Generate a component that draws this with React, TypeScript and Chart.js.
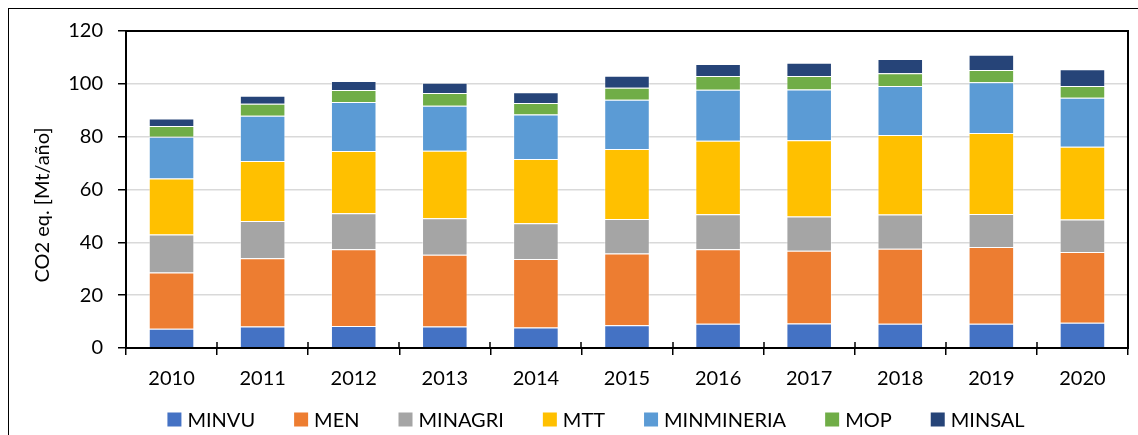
import React, { useEffect, useRef } from "react";
import { Chart, registerables } from "chart.js";

Chart.register(...registerables);

const years = ["2010", "2011", "2012", "2013", "2014", "2015", "2016", "2017", "2018", "2019", "2020"];
const minvu = [7.3, 8.1, 8.3, 8.1, 7.8, 8.6, 9.2, 9.3, 9.2, 9.2, 9.6];
const men = [21.3, 25.9, 29.1, 27.2, 25.9, 27.2, 28.2, 27.5, 28.4, 29.0, 26.7];
const minagri = [14.4, 14.1, 13.6, 13.8, 13.5, 13.0, 13.2, 13.0, 12.9, 12.5, 12.3];
const mtt = [21.2, 22.7, 23.6, 25.6, 24.3, 26.5, 27.9, 28.8, 30.1, 30.7, 27.6];
const minmineria = [15.8, 17.1, 18.5, 17.0, 16.9, 18.7, 19.3, 19.3, 18.6, 19.2, 18.5];
const mop = [4.0, 4.6, 4.6, 4.8, 4.3, 4.5, 5.2, 5.1, 4.8, 4.6, 4.5];
const minsal = [2.9, 3.0, 3.4, 3.9, 4.1, 4.6, 4.5, 5.0, 5.4, 5.8, 6.3];
const seriesNames = ["MINVU", "MEN", "MINAGRI", "MTT", "MINMINERIA", "MOP", "MINSAL"];
const seriesValues = [minvu, men, minagri, mtt, minmineria, mop, minsal];
const seriesColors = ["#4472C4", "#ED7D31", "#A5A5A5", "#FFC000", "#5B9BD5", "#70AD47", "#264478"];
const yTitle = "CO2 eq. [Mt/año]";
const yMin = 0;
const yMax = 120;
const yStep = 20;

const FONT = "Lato";

const framePlugin = {
  id: "frameAndLegend",
  afterDatasetsDraw(chart: any) {
    const { ctx, chartArea } = chart;
    const { left, right, top, bottom } = chartArea;
    const xs = chart.scales.x;
    ctx.save();
    ctx.strokeStyle = "#000";
    ctx.lineWidth = 1.5;
    const n = chart.data.labels.length;
    const step = (right - left) / n;
    for (let i = 0; i <= n; i++) {
      const x = Math.round(xs.getPixelForValue(0) - step / 2 + i * step);
      ctx.beginPath();
      ctx.moveTo(x, bottom);
      ctx.lineTo(x, bottom - 6);
      ctx.stroke();
    }
    ctx.lineWidth = 2;
    ctx.strokeRect(left, top, right - left, bottom - top);
    ctx.restore();
  },
  afterDraw(chart: any) {
    const { ctx } = chart;
    ctx.save();
    ctx.fillStyle = "#000";
    ctx.font = `20px ${FONT}`;
    ctx.textAlign = "center";
    ctx.textBaseline = "middle";
    ctx.translate(34, 196);
    ctx.rotate(-Math.PI / 2);
    ctx.fillText(yTitle, 0, 0);
    ctx.restore();

    ctx.save();
    ctx.font = `20px ${FONT}`;
    ctx.textBaseline = "middle";
    ctx.textAlign = "left";
    const box = 14;
    const gapText = 6;
    const gapItem = 39;
    const ds = chart.data.datasets;
    const widths = ds.map((d: any) => box + gapText + ctx.measureText(d.label).width);
    const total = widths.reduce((a: number, b: number) => a + b, 0) + gapItem * (ds.length - 1);
    let x = 587 - total / 2;
    const yc = 410.5;
    ds.forEach((d: any, i: number) => {
      ctx.fillStyle = d.backgroundColor;
      ctx.fillRect(x, yc - box / 2, box, box);
      ctx.fillStyle = "#000";
      ctx.fillText(d.label, x + box + gapText, yc + 1);
      x += widths[i] + gapItem;
    });
    ctx.restore();
  },
};

export default function App() {
  const ref = useRef<HTMLCanvasElement>(null);
  useEffect(() => {
    if (!ref.current) return;
    const chart = new Chart(ref.current, {
      type: "bar",
      data: {
        labels: years,
        datasets: seriesNames.map((name, i) => ({
          label: name,
          data: seriesValues[i],
          backgroundColor: seriesColors[i],
          borderColor: "rgba(255,255,255,0.45)",
          borderWidth: 1,
          categoryPercentage: 1,
          barPercentage: 0.5,
        })),
      },
      options: {
        responsive: false,
        maintainAspectRatio: false,
        animation: false,
        layout: { padding: { top: 22, right: 10, left: 0, bottom: 47 } },
        plugins: {
          legend: { display: false },
          tooltip: { enabled: false },
        },
        scales: {
          x: {
            stacked: true,
            grid: {
              display: true,
              drawOnChartArea: false,
              offset: true,
              tickLength: 7,
              tickColor: "#000",
              lineWidth: 1.5,
            },
            border: { display: true, color: "#000", width: 2 },
            ticks: {
              color: "#000",
              font: { family: FONT, size: 20 },
              padding: 12,
              maxRotation: 0,
            },
            afterFit: (scale: any) => {
              scale.height = 40;
            },
          },
          y: {
            stacked: true,
            min: yMin,
            max: yMax,
            grid: {
              color: "#D9D9D9",
              lineWidth: 1.5,
              tickColor: "#000",
              tickLength: 8,
            },
            border: { display: true, color: "#000", width: 2 },
            ticks: {
              stepSize: yStep,
              color: "#000",
              font: { family: FONT, size: 20 },
              padding: 15,
            },
            afterFit: (scale: any) => {
              scale.width = 117;
              scale.paddingTop = 0;
              scale.paddingBottom = 0;
            },
          },
        },
      },
      plugins: [framePlugin],
    });
    return () => chart.destroy();
  }, []);
  return (
    <div
      style={{
        position: "fixed",
        left: 8,
        top: 8,
        width: 1129,
        height: 426,
        borderTop: "1px solid #000",
        borderLeft: "1px solid #000",
        background: "#fff",
      }}
    >
      <canvas ref={ref} width={1129} height={426} style={{ display: "block" }} />
    </div>
  );
}
